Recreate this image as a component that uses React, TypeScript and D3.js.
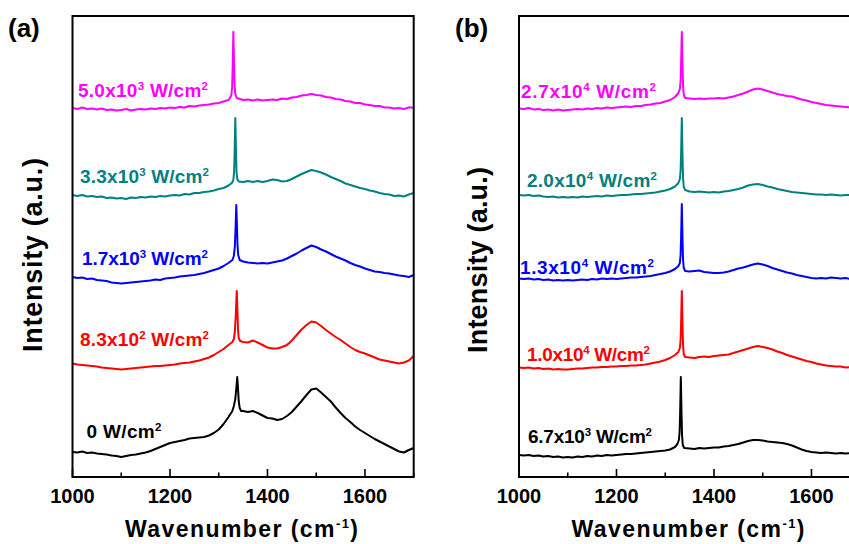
import React from "react";
import * as d3 from "d3";

// Wavenumber grid (cm^-1), step 10; null entries are covered by the peak arrays
const GRID = d3.range(1000, 1701, 10);

// ---------- Panel (a) ----------
const A_MAGENTA = [
  369, 368, 369.5, 368, 368.5, 367.5, 368.5, 367, 367.5, 366.5,
  367, 368, 366.5, 367.5, 368, 367.5, 368.5, 368, 369, 368.5,
  369.5, 369, 370, 369.5, 371, 370.5, 371.5, 372, 372.5, 373.5,
  374, 375.5, 377, null, null, 377, 377.5, 376.5, 377.5, 376.5,
  377, 377.5, 377, 378.5, 378, 379.5, 380, 381.5, 382, 383,
  382, 381.5, 380, 379.5, 378, 377.5, 376, 375.5, 374, 374,
  372.5, 372, 371, 371, 369.5, 369.5, 368.5, 369, 368, 369.5,
  369.5,
];
const A_MAGENTA_PEAK = [[1323, 379], [1326, 382], [1327.5, 390], [1328.5, 408], [1330, 445], [1331.5, 410], [1332.5, 392], [1334, 383], [1337, 379]];

const A_TEAL = [
  282, 281, 282, 280.5, 281, 280, 280.5, 279, 279.5, 278.5,
  279, 278, 279.5, 279, 280, 279.5, 280.5, 280, 281, 280.5,
  281.5, 282, 281.5, 283, 282.5, 284, 284, 285, 285.5, 286.5,
  288, 289, 291.5, null, null, 295, 296, 295, 296, 295,
  296, 297.5, 297, 295.5, 296, 298, 300.5, 303, 305, 307,
  306, 304.5, 302.5, 300, 298, 296, 293.5, 292, 290.5, 289,
  288, 286.5, 285.5, 284, 283, 282.5, 281, 281.5, 280.5, 282.5,
  284,
];
const A_TEAL_PEAK = [[1327, 294], [1330, 297], [1331.5, 305], [1332.5, 322], [1334, 359], [1335.5, 325], [1336.5, 305], [1338, 298], [1341, 295.5]];

const A_BLUE = [
  200, 199, 199.5, 198, 198.5, 197, 196.5, 196, 194.5, 194,
  193.5, 194, 194.5, 195, 195.5, 196, 196.5, 197.5, 197, 198.5,
  199, 199.5, 200.5, 201, 201.5, 202, 203, 204, 205.5, 207,
  208.5, 211, 214, null, null, 215.5, 214.5, 214, 213.5, 214,
  213.5, 214.5, 215.5, 216.5, 218.5, 221, 223.5, 226.5, 229, 231.5,
  230, 227.5, 225.5, 223, 220.5, 218.5, 216.5, 214, 212, 210.5,
  208.5, 207, 205.5, 205, 204, 203.5, 202.5, 201.5, 201, 200,
  202,
];
const A_BLUE_PEAK = [[1328, 217], [1331, 221], [1333, 230], [1334.5, 248], [1336, 272], [1337.5, 250], [1338.5, 232], [1340, 222], [1343, 217]];

const A_RED = [
  113.5, 112.5, 112, 111.5, 111, 110.5, 109.5, 109, 108.5, 108,
  107.5, 108, 108.5, 109, 109.5, 110, 110.5, 111, 111, 111.5,
  112, 112.5, 113.5, 114, 114.5, 115.5, 116.5, 118, 119.5, 122,
  125, 128, 132, null, null, 135, 134.5, 136.5, 134.5, 132,
  129.5, 128.5, 128.5, 130, 132, 136.5, 142, 147.5, 152, 155.5,
  154.5, 151, 147, 143.5, 140, 137, 133.5, 130, 127, 125,
  123.5, 121.5, 119.5, 117.5, 116.5, 115.5, 114.5, 113.5, 114.5, 116.5,
  121,
];
const A_RED_PEAK = [[1328, 135], [1331, 138], [1333, 145], [1335, 162], [1337, 186], [1338.5, 165], [1339.5, 148], [1341, 139], [1344, 136]];

const A_BLACK = [
  25, 24.5, 25.5, 24, 24.5, 23.5, 23, 22.5, 21.5, 21,
  20, 21, 22, 22.5, 23.5, 24.5, 26, 28, 30, 32,
  34, 35, 36, 37, 38.5, 39, 39.5, 40, 41.5, 44,
  47.5, 53, 60, null, null, 66, 65, 66, 64, 61.5,
  59, 58.5, 57, 58, 61, 65, 70.5, 76, 82, 87.5,
  88.5, 84.5, 80, 75.5, 69.5, 64, 59, 55, 50.5, 47,
  44, 41, 38, 35.5, 33, 30.5, 28, 25.5, 24.5, 27,
  29,
];
const A_BLACK_PEAK = [[1328, 66], [1331, 71], [1334, 78], [1336, 88], [1338, 100], [1339.5, 89], [1341, 76], [1343, 69], [1346, 66]];

// ---------- Panel (b) ----------
const B_MAGENTA = [
  368.5, 368, 369, 367.5, 368, 367, 367.5, 366.5, 367.5, 366.5,
  367, 367.5, 368, 367.5, 368.5, 368, 369, 368.5, 369.5, 369,
  369.5, 370, 370.5, 370, 371, 371, 372, 372.5, 373.5, 374,
  375.5, 377, 380, null, null, 378.5, 378, 378.5, 378, 378.5,
  378.5, 379, 378.5, 379.5, 380.5, 382, 383.5, 385.5, 387.5, 388.5,
  387.5, 386, 384.5, 383, 382, 381, 380.5, 379, 377.5, 376.5,
  375, 374, 373, 372, 371.5, 371, 370.5, 370, 369.5, 369,
  369,
];
const B_MAGENTA_PEAK = [[1327, 384], [1330, 388], [1331.5, 396], [1332.5, 412], [1334, 445], [1335.5, 412], [1336.5, 392], [1338, 382], [1341, 379]];

const B_TEAL = [
  282, 281.5, 282, 281, 281.5, 280.5, 280, 280.5, 279.5, 280,
  279.5, 280, 279.5, 280.5, 280, 280.5, 281, 280.5, 281.5, 281,
  281.5, 282, 282, 282.5, 283, 283, 283.5, 284, 284.5, 285.5,
  286.5, 288, 290.5, null, null, 285.5, 285, 285.5, 285, 284.5,
  285, 284.5, 285.5, 286, 287, 288, 289.5, 291.5, 292.5, 293,
  292, 290.5, 289.5, 288, 287, 286, 285, 284.5, 284, 283.5,
  283, 282.5, 282.5, 282, 282.5, 282, 281.5, 282, 282, 281.5,
  282,
];
const B_TEAL_PEAK = [[1327, 294], [1330, 298], [1331.5, 306], [1332.5, 322], [1334, 359], [1335.5, 320], [1336.5, 300], [1338, 290], [1341, 287]];

const B_BLUE = [
  198.5, 198, 198.5, 197.5, 198, 197, 197.5, 196.5, 197, 196.5,
  197, 196.5, 197, 197.5, 197, 198, 197.5, 198.5, 198, 198.5,
  198, 198.5, 199, 199.5, 199.5, 200, 200.5, 201, 202, 203,
  204, 205.5, 208, null, null, 205.5, 206, 206.5, 205, 204.5,
  204, 204, 204.5, 205.5, 207, 208.5, 209.5, 211, 212.5, 213.5,
  212.5, 211, 209, 207.5, 206, 204.5, 203.5, 202, 201, 200,
  199, 198.5, 199, 198.5, 199.5, 199, 198.5, 199, 198, 198.5,
  199,
];
const B_BLUE_PEAK = [[1327, 211], [1330, 214], [1331.5, 222], [1332.5, 238], [1334, 273], [1335.5, 238], [1336.5, 218], [1338, 209], [1341, 206]];

const B_RED = [
  109.5, 109, 109.5, 108.5, 109, 108, 108.5, 107.5, 108, 107.5,
  107.5, 108, 108.5, 108.5, 109, 109.5, 109.5, 110, 110, 110.5,
  110.5, 111, 111, 111.5, 111.5, 112, 112.5, 113.5, 114.5, 115.5,
  117, 119, 122, null, null, 119.5, 119, 120, 120.5, 120,
  121, 121.5, 122, 122.5, 124, 125.5, 127, 128.5, 130, 131,
  130, 129, 127.5, 125.5, 124, 122, 120.5, 119, 117.5, 116,
  115, 113.5, 112.5, 111.5, 111, 110.5, 110.5, 109.5, 110, 110.5,
  110,
];
const B_RED_PEAK = [[1327, 125], [1330, 129], [1331.5, 137], [1332.5, 152], [1334, 186], [1335.5, 152], [1336.5, 133], [1338, 123], [1341, 120]];

const B_BLACK = [
  22, 21.5, 22, 21, 21.5, 20.5, 21, 20, 20.5, 19.5,
  20, 19.5, 20.5, 20, 21, 20.5, 21.5, 21, 22, 21.5,
  22, 22.5, 23, 23, 23.5, 24, 24.5, 25, 25.5, 26,
  26.5, 27.5, 30, null, null, 28.5, 28, 29, 28.5, 29,
  29.5, 29.5, 30.5, 31, 32, 33, 34.5, 36, 37, 37,
  36.5, 35.5, 35, 34.5, 34, 33, 31.5, 29.5, 27.5, 26,
  25, 24.5, 24, 24.5, 24, 23.5, 24, 23.5, 24, 23.5,
  24,
];
const B_BLACK_PEAK = [[1325, 33], [1328, 37], [1329.5, 45], [1330.5, 62], [1332, 100], [1333.5, 62], [1334.5, 42], [1336, 32], [1339, 29]];

// Colors / labels
const COLORS = ["#ff00ff", "#008080", "#0000ff", "#ff0000", "#000000"];
const A_LABEL_BASE = ["5.0x10", "3.3x10", "1.7x10", "8.3x10", "0"];
const A_LABEL_EXP = ["3", "3", "3", "2", ""];
const B_LABEL_BASE = ["2.7x10", "2.0x10", "1.3x10", "1.0x10", "6.7x10"];
const B_LABEL_EXP = ["4", "4", "4", "4", "3"];
const MAJOR_TICKS = [1000, 1200, 1400, 1600];
const MINOR_TICKS = [1100, 1300, 1500, 1700];

const FONT = "'Liberation Sans', Arial, Helvetica, sans-serif";

function build(vals: (number | null)[], peak: number[][]) {
  const pts: [number, number][] = [];
  GRID.forEach((w, i) => {
    const v = vals[i];
    if (v != null) pts.push([w, v]);
  });
  peak.forEach((p) => pts.push([p[0], p[1]]));
  pts.sort((a, b) => a[0] - b[0]);
  return pts;
}

const SERIES_A = [
  build(A_MAGENTA, A_MAGENTA_PEAK),
  build(A_TEAL, A_TEAL_PEAK),
  build(A_BLUE, A_BLUE_PEAK),
  build(A_RED, A_RED_PEAK),
  build(A_BLACK, A_BLACK_PEAK),
];
const SERIES_B = [
  build(B_MAGENTA, B_MAGENTA_PEAK),
  build(B_TEAL, B_TEAL_PEAK),
  build(B_BLUE, B_BLUE_PEAK),
  build(B_RED, B_RED_PEAK),
  build(B_BLACK, B_BLACK_PEAK),
];

type LabelPos = { x: number; y: number; len: number };

function Label({ base, exp, pos, color }: { base: string; exp: string; pos: LabelPos; color: string }) {
  return (
    <text x={pos.x} y={pos.y} fill={color} fontFamily={FONT} fontWeight="bold" fontSize={19}
      textLength={pos.len} lengthAdjust="spacing">
      {base}
      {exp ? <tspan dy={-7.5} fontSize={11.5}>{exp}</tspan> : null}
      <tspan dy={exp ? 7.5 : 0} fontSize={19}>{" W/cm"}</tspan>
      <tspan dy={-7.5} fontSize={11.5}>2</tspan>
    </text>
  );
}

function Panel({ left, series, labelBase, labelExp, labelPos, tag, tagX, yLabelX, yLabelY, yLabelLen }: any) {
  const top = 16, bottom = 477;
  const width = 341.2;
  const x = d3.scaleLinear().domain([1000, 1700]).range([left, left + width]);
  const y = d3.scaleLinear().domain([0, 461]).range([bottom, top]);
  const line = d3.line<[number, number]>().x((d) => x(d[0])).y((d) => y(d[1])).curve(d3.curveLinear);
  return (
    <g>
      {series.map((s: [number, number][], i: number) => (
        <path key={i} d={line(s) || ""} fill="none" stroke={COLORS[i]} strokeWidth={2} strokeLinejoin="round" />
      ))}
      <rect x={left} y={top} width={width} height={bottom - top} fill="none" stroke="#000" strokeWidth={2} />
      {MAJOR_TICKS.map((t) => (
        <line key={"M" + t} x1={x(t)} x2={x(t)} y1={bottom} y2={bottom - 8} stroke="#000" strokeWidth={1.6} />
      ))}
      {MINOR_TICKS.map((t) => (
        <line key={"m" + t} x1={x(t)} x2={x(t)} y1={bottom} y2={bottom - 4.5} stroke="#000" strokeWidth={1.6} />
      ))}
      {MAJOR_TICKS.map((t) => (
        <text key={"L" + t} x={x(t)} y={503} textAnchor="middle" fontFamily={FONT} fontWeight="bold" fontSize={20}>{t}</text>
      ))}
      <text x={left + 52.5} y={537} fontFamily={FONT} fontWeight="bold" fontSize={23} textLength={233} lengthAdjust="spacing">
        Wavenumber (cm<tspan dy={-9} fontSize={13}>-1</tspan><tspan dy={9} fontSize={23}>)</tspan>
      </text>
      <text transform={`translate(${yLabelX},${yLabelY}) rotate(-90)`} textAnchor="middle" fontFamily={FONT}
        fontWeight="bold" fontSize={27} textLength={yLabelLen} lengthAdjust="spacing">
        Intensity (a.u.)
      </text>
      <text x={tagX} y={37} fontFamily={FONT} fontWeight="bold" fontSize={26}>{tag}</text>
      {labelBase.map((b: string, i: number) => (
        <Label key={i} base={b} exp={labelExp[i]} pos={labelPos[i]} color={COLORS[i]} />
      ))}
    </g>
  );
}

const A_POS: LabelPos[] = [
  { x: 78, y: 97, len: 130 },
  { x: 80, y: 183, len: 129 },
  { x: 82, y: 265, len: 126 },
  { x: 80, y: 346, len: 129 },
  { x: 86.5, y: 438, len: 75 },
];
const B_POS: LabelPos[] = [
  { x: 521, y: 98, len: 135 },
  { x: 527, y: 187, len: 130 },
  { x: 520, y: 274, len: 134 },
  { x: 527, y: 361, len: 123 },
  { x: 528, y: 443, len: 124 },
];

export default function App() {
  return (
    <svg width={849} height={544} style={{ position: "absolute", left: 0, top: 0, background: "#fff" }}>
      <rect x={0} y={0} width={849} height={544} fill="#fff" />
      <Panel left={72.5} series={SERIES_A} labelBase={A_LABEL_BASE} labelExp={A_LABEL_EXP} labelPos={A_POS}
        tag="(a)" tagX={8} yLabelX={42} yLabelY={255} yLabelLen={194} />
      <Panel left={519} series={SERIES_B} labelBase={B_LABEL_BASE} labelExp={B_LABEL_EXP} labelPos={B_POS}
        tag="(b)" tagX={455} yLabelX={487} yLabelY={260} yLabelLen={186} />
    </svg>
  );
}
